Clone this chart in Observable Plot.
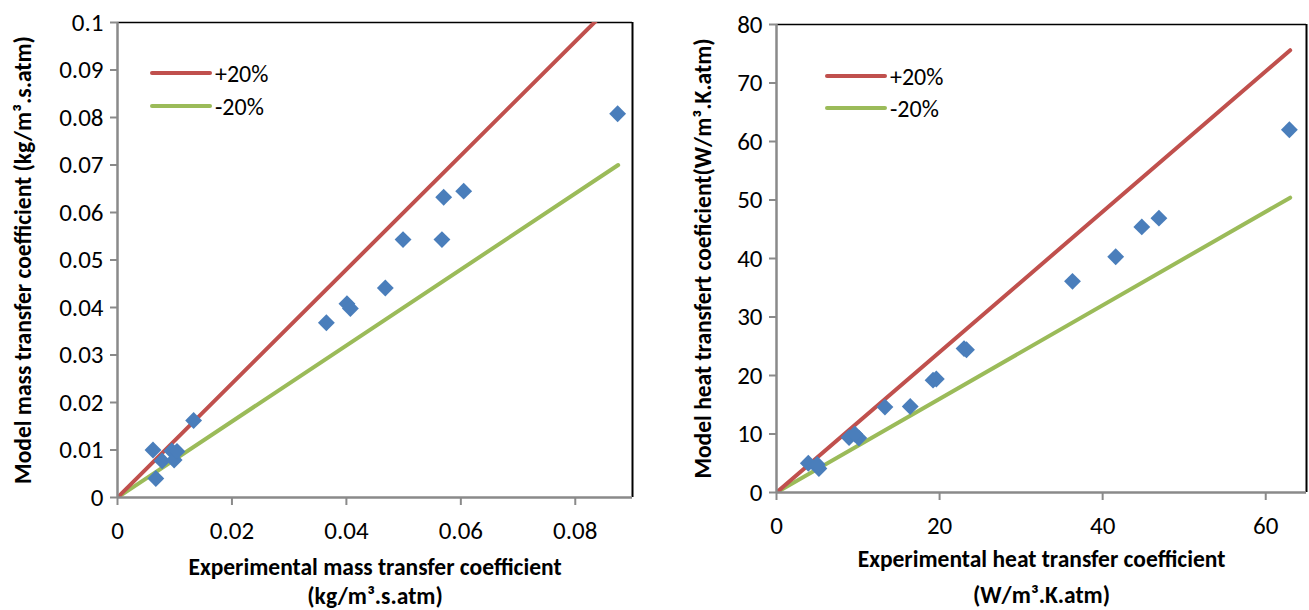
<!DOCTYPE html>
<html><head><meta charset="utf-8">
<script src="https://cdn.jsdelivr.net/npm/d3@7"></script>
<script src="https://cdn.jsdelivr.net/npm/@observablehq/plot@0.6"></script>
<style>
body{margin:0;background:#fff;}
#wrap{position:relative;width:1309px;height:610px;overflow:hidden;font-family:Carlito,Calibri,Lato,sans-serif;}
.panel{position:absolute;top:0;}
.leg{position:absolute;display:flex;align-items:center;font-size:24px;color:#000;}
.leg span.sw{display:inline-block;width:62px;height:4px;margin-right:3px;border-radius:2px;}
</style></head><body>
<div id="wrap">
  <div id="left" class="panel" style="left:0"></div>
  <div id="right" class="panel" style="left:654px"></div>
</div>
<script>
const FONT = "Carlito, Calibri, Lato, sans-serif";
const RED = "#c0504d", GREEN = "#9bbb59", BLUE = "#4a7ebb", GREY = "#8a8a8a";
const legendLabels = ["+20%", "-20%"];

// Mass transfer chart
const massYTicks = [0, 0.01, 0.02, 0.03, 0.04, 0.05, 0.06, 0.07, 0.08, 0.09, 0.1];
const massXTicks = [0, 0.02, 0.04, 0.06, 0.08];
const massExp   = [0.0062, 0.0067, 0.0078, 0.0095, 0.0099, 0.0104, 0.0133, 0.0365, 0.0401, 0.0407, 0.0468, 0.0499, 0.0567, 0.0570, 0.0605, 0.0874];
const massModel = [0.0100, 0.0040, 0.0077, 0.0098, 0.0079, 0.0097, 0.0162, 0.0368, 0.0408, 0.0398, 0.0441, 0.0543, 0.0543, 0.0632, 0.0645, 0.0808];
const massLineX  = [0, 0.0875];
const massPlusY  = [0, 0.105];
const massMinusY = [0, 0.07];

// Heat transfer chart
const heatYTicks = [0, 10, 20, 30, 40, 50, 60, 70, 80];
const heatXTicks = [0, 20, 40, 60];
const heatExp   = [3.9, 5.2, 5.0, 8.9, 10.1, 9.6, 13.3, 16.4, 19.2, 19.6, 23.0, 23.3, 36.3, 41.6, 44.8, 46.9, 62.9];
const heatModel = [5.0, 4.1, 4.8, 9.4, 9.3, 10.0, 14.6, 14.7, 19.2, 19.4, 24.6, 24.4, 36.1, 40.3, 45.4, 46.9, 62.0];
const heatLineX  = [0, 63];
const heatPlusY  = [0, 75.6];
const heatMinusY = [0, 50.4];

function fmt(d) { return String(+d.toFixed(4)); }

function makeChart(cfg) {
  const idx = d3.range(cfg.exp.length);
  const li = d3.range(cfg.lineX.length);
  const TS = 23.5;
  return Plot.plot({
    width: cfg.width, height: 610,
    marginLeft: cfg.ml, marginRight: cfg.mr, marginTop: cfg.mt, marginBottom: cfg.mb,
    style: {fontFamily: FONT, background: "transparent", overflow: "visible", color: "#000"},
    x: {domain: cfg.xDomain},
    y: {domain: cfg.yDomain},
    marks: [
      Plot.ruleY([cfg.yDomain[1]], {stroke: "#000", strokeWidth: 1.6}),
      Plot.ruleX([cfg.xDomain[1]], {stroke: "#000", strokeWidth: 2}),
      Plot.line(li, {x: i => cfg.lineX[i], y: i => cfg.minusY[i], stroke: GREEN, strokeWidth: 4, strokeLinecap: "round", clip: "frame"}),
      Plot.line(li, {x: i => cfg.lineX[i], y: i => cfg.plusY[i], stroke: RED, strokeWidth: 4, strokeLinecap: "round", clip: "frame"}),
      Plot.dot(idx, {x: i => cfg.exp[i], y: i => cfg.model[i], symbol: "diamond2", r: 7.6, fill: BLUE, stroke: "none"}),
      Plot.ruleX([0], {stroke: GREY, strokeWidth: 2.5}),
      Plot.ruleY([0], {stroke: GREY, strokeWidth: 2.5}),
      Plot.axisY(cfg.yTicks, {tickSize: 7, tickPadding: 7, stroke: GREY, strokeWidth: 2, fill: "#000", fontSize: 25, tickFormat: fmt}),
      Plot.axisX(cfg.xTicks, {tickSize: 8, tickPadding: 16, stroke: GREY, strokeWidth: 2, fill: "#000", fontSize: 25, tickFormat: fmt}),
      Plot.text([cfg.xTitle1], {frameAnchor: "bottom", dy: cfg.xt1dy, fontWeight: "bold", fontSize: TS, fill: "#000"}),
      Plot.text([cfg.xTitle2], {frameAnchor: "bottom", dy: cfg.xt2dy, fontWeight: "bold", fontSize: TS, fill: "#000"}),
      Plot.text([cfg.yTitle], {frameAnchor: "left", textAnchor: "middle", dx: cfg.ytdx, rotate: -90, fontWeight: "bold", fontSize: TS, fill: "#000"})
    ]
  });
}

document.getElementById("left").append(makeChart({
  width: 654, ml: 117, mr: 22, mt: 22, mb: 113,
  xDomain: [0, 0.09], yDomain: [0, 0.1],
  xTicks: massXTicks, yTicks: massYTicks,
  exp: massExp, model: massModel,
  lineX: massLineX, plusY: massPlusY, minusY: massMinusY,
  xTitle1: "Experimental mass transfer coefficient", xTitle2: "(kg/m³.s.atm)",
  xt1dy: 77, xt2dy: 106,
  yTitle: "Model mass transfer coefficient (kg/m³.s.atm)", ytdx: -94
}));

document.getElementById("right").append(makeChart({
  width: 655, ml: 122, mr: 3, mt: 24, mb: 118,
  xDomain: [0, 65], yDomain: [0, 80],
  xTicks: heatXTicks, yTicks: heatYTicks,
  exp: heatExp, model: heatModel,
  lineX: heatLineX, plusY: heatPlusY, minusY: heatMinusY,
  xTitle1: "Experimental heat transfer coefficient", xTitle2: "(W/m³.K.atm)",
  xt1dy: 74, xt2dy: 110,
  yTitle: "Model heat transfert coeficient(W/m³.K.atm)", ytdx: -73
}));

// Legends
function legend(left, top, gap) {
  const colors = [RED, GREEN];
  legendLabels.forEach((lab, k) => {
    const d = document.createElement("div");
    d.className = "leg";
    d.style.left = left + "px";
    d.style.top = (top + k * gap - 15) + "px";
    d.style.height = "30px";
    const sw = document.createElement("span");
    sw.className = "sw";
    sw.style.background = colors[k];
    d.append(sw, document.createTextNode(lab));
    document.getElementById("wrap").append(d);
  });
}
legend(150, 73, 33);
legend(825, 76, 32);
</script>
</body></html>
